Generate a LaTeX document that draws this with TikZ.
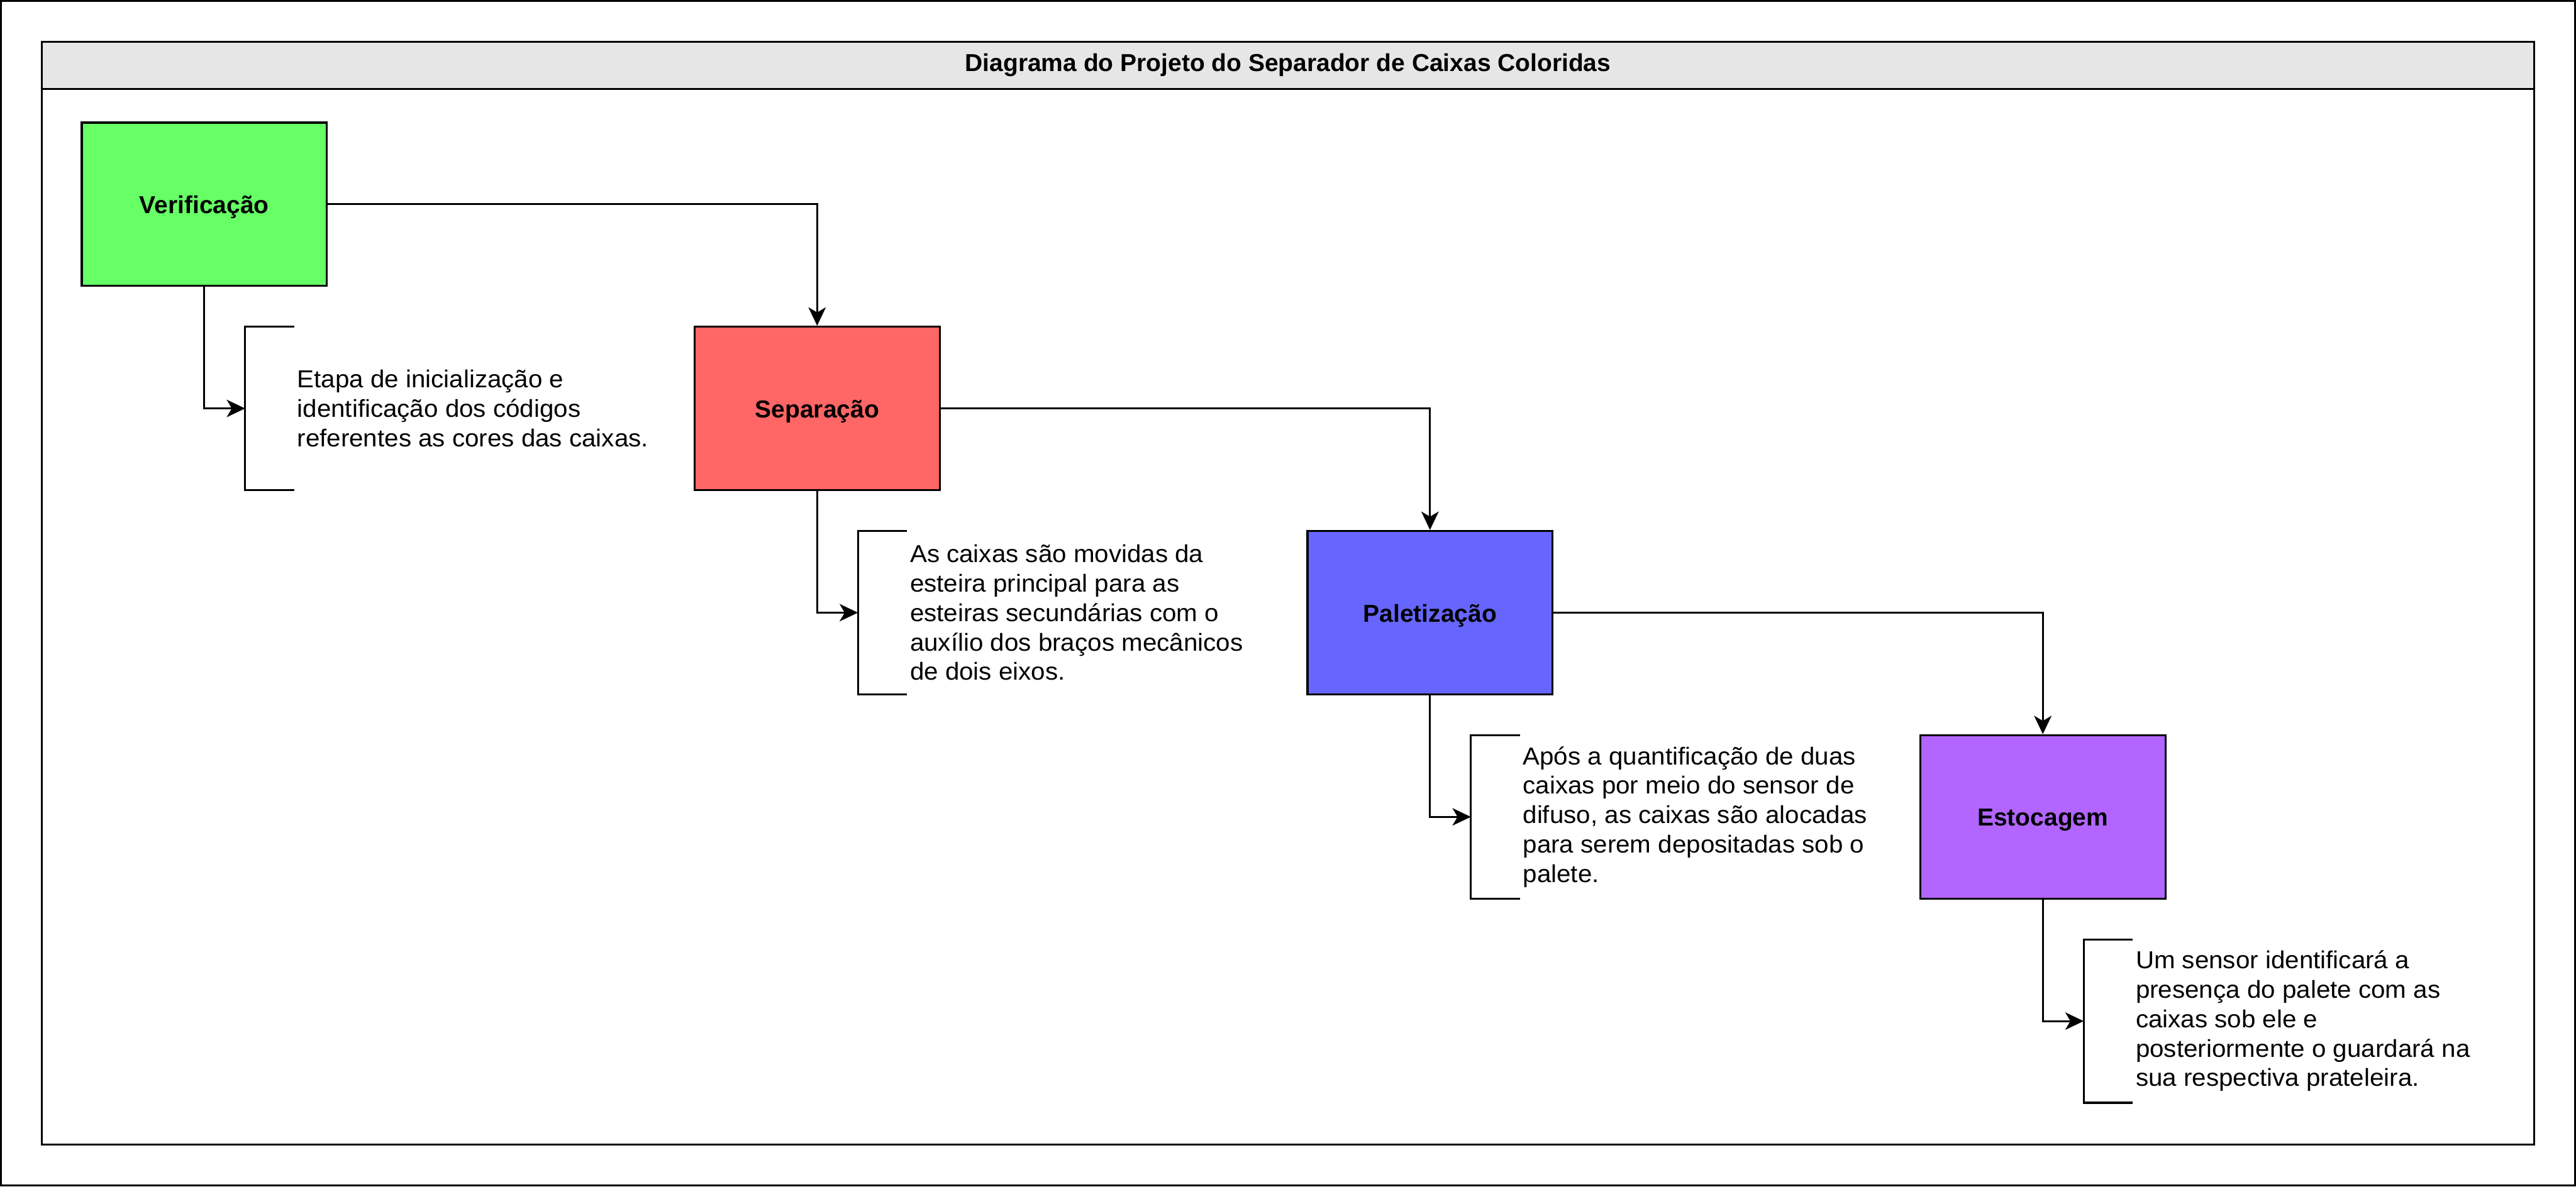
\documentclass[tikz,border=0pt]{standalone}
\usepackage{fontspec}
\setmainfont{Liberation Sans}
\newfontfamily\notefont{Liberation Sans}[FakeStretch=1.035]
\usetikzlibrary{arrows.meta}
\definecolor{cverif}{HTML}{66FF66}
\definecolor{csep}{HTML}{FF6666}
\definecolor{cpal}{HTML}{6666FF}
\definecolor{cest}{HTML}{B266FF}
\definecolor{ctitle}{HTML}{E6E6E6}
\begin{document}
\begin{tikzpicture}[x=1pt,y=-1pt,line width=1pt,
  stage/.style={draw, minimum width=120pt, minimum height=80pt, inner sep=0pt,
    text height=10.5pt, text depth=1.5pt,
    font=\bfseries\fontsize{12}{14.4}\selectfont},
  note/.style={anchor=west, align=left, inner sep=0pt,
    font=\notefont\fontsize{12}{14.4}\selectfont},
  arr/.style={-{Stealth[length=9pt,width=8.5pt,inset=2.5pt]}}]
\useasboundingbox (0,0) rectangle (1261,581);
\draw (0.5,0.5) rectangle (1260.5,580.5);
\node[draw, minimum width=1220pt, minimum height=540pt, inner sep=0pt, anchor=north west] (frame) at (20,20) {};
\node[draw, fill=ctitle, minimum width=1220pt, minimum height=23pt, inner sep=0pt, anchor=north,
  font=\bfseries\fontsize{12}{14.4}\selectfont] (title) at (frame.north) {Diagrama do Projeto do Separador de Caixas Coloridas};

\node[stage, fill=cverif] (v) at (100,100) {Verificação};
\node[stage, fill=csep] (s) at (400,200) {Separação};
\node[stage, fill=cpal] (p) at (700,300) {Paletização};
\node[stage, fill=cest] (e) at (1000,400) {Estocagem};

\draw[arr] (v.east) -| (s.north);
\draw[arr] (s.east) -| (p.north);
\draw[arr] (p.east) -| (e.north);

\coordinate (b1) at (120,200);
\coordinate (b2) at (420,300);
\coordinate (b3) at (720,400);
\coordinate (b4) at (1020,500);

\foreach \b in {b1,b2,b3,b4}{
  \draw (\b) ++(24,-40) -- ++(-24,0) -- ++(0,80) -- ++(24,0);
}

\draw[arr] (v.south) |- (b1);
\draw[arr] (s.south) |- (b2);
\draw[arr] (p.south) |- (b3);
\draw[arr] (e.south) |- (b4);

\node[note] (n1) at (145,200) {Etapa de inicialização e\\identificação dos códigos\\referentes as cores das caixas.};
\node[note] (n2) at (445,300) {As caixas são movidas da\\esteira principal para as\\esteiras secundárias com o\\auxílio dos braços mecânicos\\de dois eixos.};
\node[note] (n3) at (745,400) {Após a quantificação de duas\\caixas por meio do sensor de\\difuso, as caixas são alocadas\\para serem depositadas sob o\\palete.};
\node[note] (n4) at (1045,500) {Um sensor identificará a\\presença do palete com as\\caixas sob ele e\\posteriormente o guardará na\\sua respectiva prateleira.};
\end{tikzpicture}
\end{document}
